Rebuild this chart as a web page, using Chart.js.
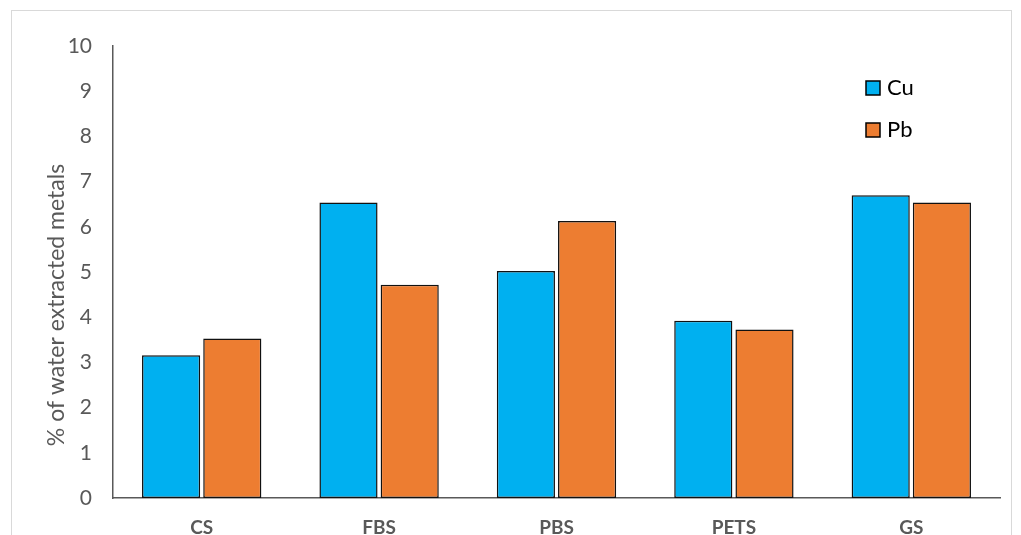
<!DOCTYPE html>
<html>
<head>
<meta charset="utf-8">
<script src="https://cdn.jsdelivr.net/npm/chart.js@4.4.0/dist/chart.umd.min.js"></script>
<style>
  html, body { margin: 0; padding: 0; background: #fff; overflow: hidden; }
  #wrap { position: relative; width: 1021px; height: 535px; overflow: hidden; }
  #frame { position: absolute; left: 11px; top: 10px; width: 1001px; height: 540px; border: 1px solid #d9d9d9; box-sizing: border-box; }
  canvas { position: absolute; left: 0; top: 0; }
</style>
</head>
<body>
<div id="wrap">
  <div id="frame"></div>
  <canvas id="chart" width="1021" height="550"></canvas>
</div>
<script>
const categories = ['CS', 'FBS', 'PBS', 'PETS', 'GS'];
const cuValues = [3.16, 6.54, 5.02, 3.92, 6.70];
const pbValues = [3.53, 4.72, 6.13, 3.73, 6.54];
const yTicks = [0, 1, 2, 3, 4, 5, 6, 7, 8, 9, 10];
const yTitle = '% of water extracted metals';

const gray = '#595959';
const fontFamily = 'Lato, "Liberation Sans", sans-serif';

// draws the y title and the little legend in the corner
const extras = {
    id: 'extras',
    afterDraw(chart) {
        const ctx = chart.ctx;
        ctx.save();
        ctx.fillStyle = gray;
        ctx.font = '23px ' + fontFamily;
        ctx.textAlign = 'center';
        ctx.textBaseline = 'middle';
        ctx.translate(57, 305);
        ctx.rotate(-Math.PI / 2);
        ctx.fillText(yTitle, 0, 0);
        ctx.restore();

        ctx.save();
        ctx.font = '22px ' + fontFamily;
        ctx.textBaseline = 'middle';
        chart.data.datasets.forEach((ds, i) => {
            const y = 88 + i * 42;
            ctx.fillStyle = ds.backgroundColor;
            ctx.fillRect(866, y - 7, 14, 14);
            ctx.strokeStyle = '#000';
            ctx.lineWidth = 1.5;
            ctx.strokeRect(866, y - 7, 14, 14);
            ctx.fillStyle = '#000';
            ctx.fillText(ds.label, 887, y);
        });
        ctx.restore();
    }
};

new Chart(document.getElementById('chart'), {
    type: 'bar',
    data: {
        labels: categories,
        datasets: [
            { label: 'Cu', data: cuValues, backgroundColor: '#00B0F0' },
            { label: 'Pb', data: pbValues, backgroundColor: '#ED7D31' }
        ]
    },
    options: {
        responsive: false,
        animation: false,
        datasets: {
            bar: {
                borderColor: '#111',
                borderWidth: 1.5,
                borderSkipped: false,
                categoryPercentage: 0.69,
                barPercentage: 0.95
            }
        },
        layout: { padding: { left: 0, right: 21, top: 46, bottom: 0 } },
        plugins: { legend: { display: false }, tooltip: { enabled: false } },
        scales: {
            x: {
                grid: { display: false, drawTicks: false },
                border: { display: true, color: gray, width: 1.5 },
                ticks: { color: gray, font: { family: fontFamily, size: 19, weight: 'bold' }, padding: 18 },
                afterFit(scale) { scale.height = 52; }
            },
            y: {
                min: 0,
                max: 10,
                afterBuildTicks(scale) { scale.ticks = yTicks.map(v => ({ value: v })); },
                grid: { display: false, drawTicks: false },
                border: { display: true, color: gray, width: 1.5 },
                ticks: { color: gray, font: { family: fontFamily, size: 21 }, padding: 21 },
                afterFit(scale) { scale.width = 113; }
            }
        }
    },
    plugins: [extras]
});
</script>
</body>
</html>
